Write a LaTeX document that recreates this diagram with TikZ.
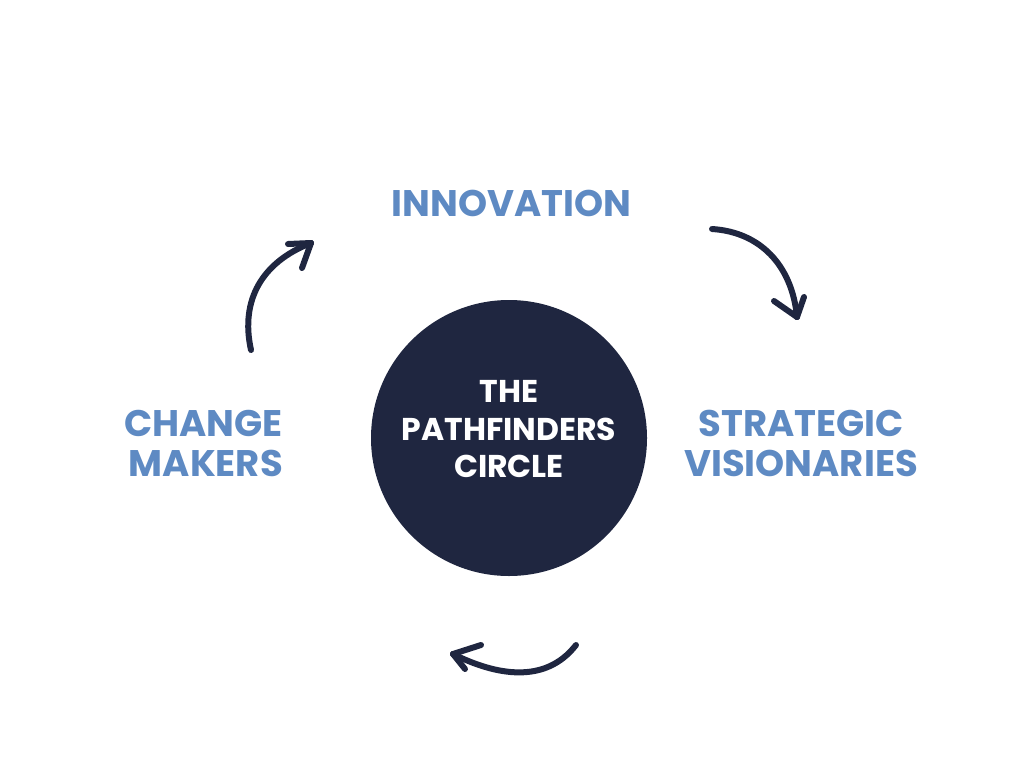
\documentclass[tikz,border=0pt]{standalone}
\usepackage{fontspec}
\newfontfamily\labelfont{Poppins}
\definecolor{navy}{HTML}{1F2640}
\definecolor{bluelab}{HTML}{5E8AC3}
\begin{document}
\begin{tikzpicture}[x=1pt,y=-1pt,
  lab/.style={text=bluelab,font=\labelfont\bfseries\fontsize{37}{40}\selectfont,inner sep=0pt},
  hub/.style={circle,fill=navy,minimum size=276pt,inner sep=0pt},
  hubtext/.style={text=white,align=center,inner sep=0pt,
     font=\labelfont\bfseries\fontsize{31.5}{37.5}\selectfont},
  sketch/.style={draw=navy,line width=6pt,line cap=round,line join=round},
  barb/.style={draw=navy,line width=6pt,line cap=round}]
\fill[white] (0,0) rectangle (1024,768);
\useasboundingbox (0,0) rectangle (1024,768);

\node[hub] (hub) at (509,438) {};
\node[hubtext] (hubt) at ([yshift=8.5pt]hub.center) {THE\\PATHFINDERS\\CIRCLE};
\node[lab,align=center] (innov) at (511.5,203.5) {INNOVATION};
\node[lab,align=center] (strat) at (801,443.5) {STRATEGIC\\VISIONARIES};
\node[lab,align=right,anchor=east] (change) at (283,443.5) {CHANGE\\MAKERS};

% left arrow (up towards INNOVATION)
\coordinate (a1s) at (251,350);
\coordinate (a1t) at (311,243);
\draw[sketch] (a1s) .. controls (240,300) and (262,262) .. (a1t);
\draw[barb] (a1t) -- (288,244);
\draw[barb] (a1t) -- (302,268);

% right arrow (down towards STRATEGIC VISIONARIES)
\coordinate (a2s) at (712,229);
\coordinate (a2t) at (797,317);
\draw[sketch] (a2s) .. controls (760,232) and (792,265) .. (a2t);
\draw[barb] (a2t) -- (774,301);
\draw[barb] (a2t) -- (804,297);

% bottom arrow (left towards CHANGE MAKERS)
\coordinate (a3s) at (576,645);
\coordinate (a3t) at (453,654);
\draw[sketch] (a3s) .. controls (545,685) and (495,675) .. (a3t);
\draw[barb] (a3t) -- (481,645);
\draw[barb] (a3t) -- (465,669);
\end{tikzpicture}
\end{document}
